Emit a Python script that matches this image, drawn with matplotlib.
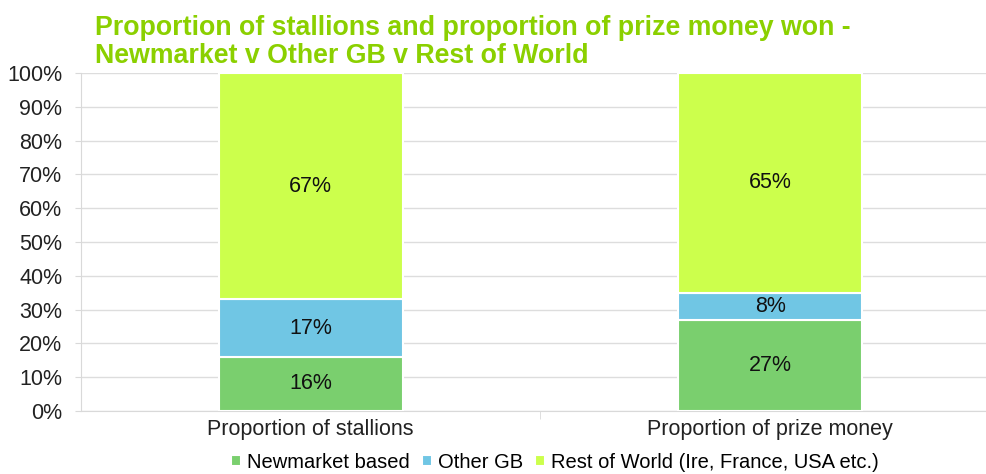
import numpy as np
import matplotlib.pyplot as plt

plt.rcParams['font.family'] = ['Liberation Sans', 'DejaVu Sans']

categories = ['Proportion of stallions', 'Proportion of prize money']
series_names = ['Newmarket based', 'Other GB', 'Rest of World (Ire, France, USA etc.)']
newmarket = [16, 27]
other_gb = [17, 8]
rest_world = [67, 65]
colors = ['#7ACF6E', '#70C6E4', '#CCFF4C']

fig = plt.figure(figsize=(9.87, 4.74), dpi=100)
ax = fig.add_axes([81/987, (474-411)/474, (987-81)/987, (411-73)/474])

x = np.arange(len(categories))
bottom = np.zeros(len(categories))
handles = []
for vals, col, name in zip([newmarket, other_gb, rest_world], colors, series_names):
    bars = ax.bar(x, vals, width=0.40, bottom=bottom, color=col, edgecolor='white',
                  linewidth=1.5, label=name, zorder=3)
    for xi, b, v in zip(x, bottom, vals):
        ax.text(xi, b + v/2, f'{v}%', ha='center', va='center', fontsize=15.5, color='#111111', zorder=4)
    bottom += np.array(vals)
    handles.append(bars)

ax.set_ylim(0, 100)
ax.set_xlim(-0.5, 1.5 - 13/460)
ax.set_yticks(np.arange(0, 101, 10))
ax.set_yticklabels([f'{t}%' for t in range(0, 101, 10)], fontsize=15.5, color='#222222')
ax.set_xticks(x)
ax.set_xticklabels(categories, fontsize=15.5, color='#222222')
ax.tick_params(axis='x', length=0, pad=6)
ax.tick_params(axis='y', length=4, color='#D9D9D9', pad=9.5)
ax.set_xticks([0.5], minor=True)
ax.tick_params(axis='x', which='minor', length=6, color='#D9D9D9', direction='out')
ax.grid(axis='y', color='#DDDDDD', linewidth=1, zorder=0)
for s in ['top', 'right']:
    ax.spines[s].set_visible(False)
ax.spines['left'].set_color('#D9D9D9')
ax.spines['bottom'].set_color('#D9D9D9')

fig.text(95/987, 1 - 15/474, 'Proportion of stallions and proportion of prize money won -\nNewmarket v Other GB v Rest of World',
         ha='left', va='top', fontsize=19.3, fontweight='bold', color='#8BD000', linespacing=1.08)

fig.legend(handles=handles, labels=series_names, loc='center', bbox_to_anchor=(555/987, 1 - 462/474),
           ncol=3, frameon=False, fontsize=14.5, handlelength=0.5, handleheight=0.5,
           handletextpad=0.3, columnspacing=0.6, borderaxespad=0)

fig.savefig('out.png', dpi=100)
